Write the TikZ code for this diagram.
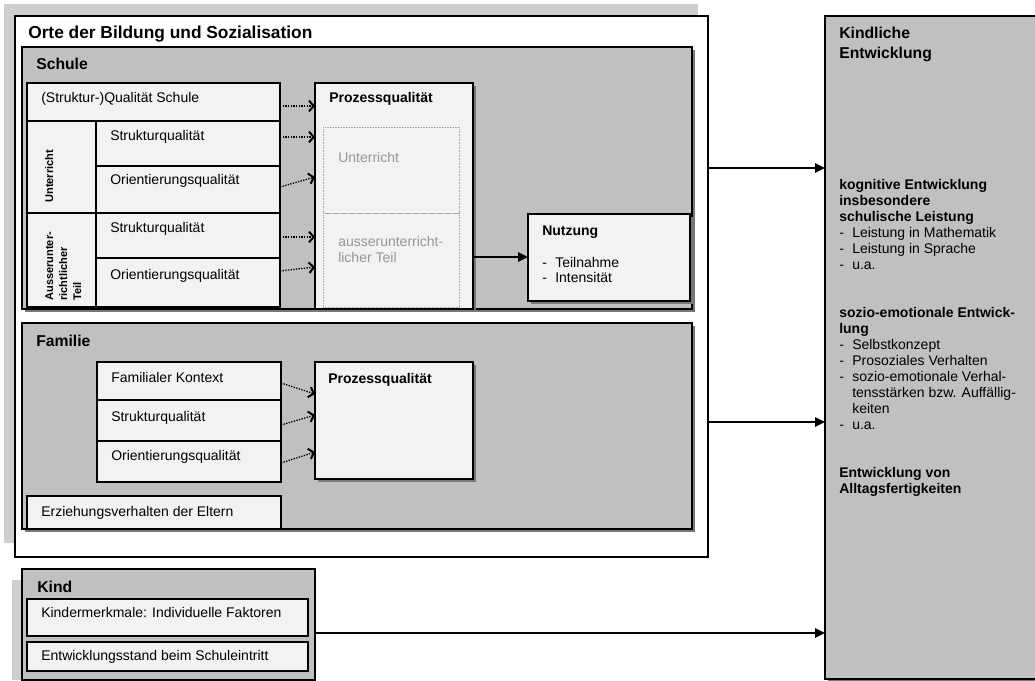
\documentclass[tikz,border=0pt]{standalone}
\usepackage{fontspec}
\setmainfont{Liberation Sans}
\usetikzlibrary{fit,shadows,arrows.meta}
\definecolor{secgray}{RGB}{192,192,192}
\definecolor{boxfill}{RGB}{242,242,242}
\definecolor{shadowc}{RGB}{120,120,120}
\definecolor{backc}{RGB}{206,206,206}
\definecolor{txtgray}{RGB}{150,150,150}
\definecolor{dotc}{RGB}{165,165,165}
\newcommand\fbody{\fontsize{10.5}{12}\selectfont}
\newcommand\fhead{\fontsize{11.8}{15}\selectfont\bfseries}
\newcommand\ftitle{\fontsize{13}{15.6}\selectfont\bfseries}
\newcommand\frot{\fontsize{8.3}{10.5}\selectfont\bfseries}
\newcommand\lidash{\makebox[9.75pt][l]{-}}
\begin{document}
\begin{tikzpicture}[x=0.75pt,y=-0.75pt,
  area/.style={inner sep=0pt,outer sep=0pt},
  sec/.style={area,draw=black,line width=0.9pt,fill=secgray},
  cell/.style={area,draw=black,line width=0.8pt,fill=boxfill},
  dbox/.style={area,draw=dotc,line width=0.5pt,dash pattern=on 0.6pt off 0.6pt},
  shad/.style={drop shadow={shadow xshift=2.4pt,shadow yshift=-2.4pt,fill=shadowc,opacity=1}},
  txt/.style={anchor=base west,inner sep=0pt,font=\fbody},
  dotarr/.style={line width=1pt,dash pattern=on 1pt off 1pt,-{Straight Barb[length=3.5pt,width=8pt,line width=1.5pt]}},
  arr/.style={line width=1.6pt,-{Triangle[length=7.5pt,width=7pt]}}]
\useasboundingbox (0,0) rectangle (1035,681);
% backdrops
\node[area,fill=backc,fit={(4,4) (698,543)}] (back) {};
\node[area,draw=black,line width=0.8pt,fill=white,fit={(15,16) (708,557)}] (orte) {};
\node[txt,font=\ftitle] (torte) at (28,39) {Orte der Bildung und Sozialisation};
% Schule
\node[sec,shad,fit={(22,47) (692,309)}] (schule) {};
\node[txt,font=\fhead] (tschule) at (36,70) {Schule};
\node[cell,fit={(27,83) (280,121)}] (qs) {};
\node[cell,fit={(27,121) (96,213)}] (unt) {};
\node[cell,fit={(96,121) (280,166)}] (sq1) {};
\node[cell,fit={(96,166) (280,213)}] (oq1) {};
\node[cell,fit={(27,213) (96,307)}] (aus) {};
\node[cell,fit={(96,213) (280,258)}] (sq2) {};
\node[cell,fit={(96,258) (280,307)}] (oq2) {};
\node[txt] (tqs) at (41,103) {(Struktur-)Qualität Schule};
\node[txt] (tsq1) at (110,141) {Strukturqualität};
\node[txt] (toq1) at (110,185) {Orientierungsqualität};
\node[txt] (tsq2) at (110,233) {Strukturqualität};
\node[txt] (toq2) at (110,279) {Orientierungsqualität};
\node[txt,font=\frot,rotate=90] (tunt) at (53,203) {Unterricht};
\node[txt,font=\frot,rotate=90] (taus) at (53,301) {\begin{tabular}[t]{@{}l@{}}Ausserunter-\\richtlicher\\Teil\end{tabular}};
\node[cell,shad,fit={(315,83) (473,309)}] (pq1) {};
\node[txt,font=\fbody\bfseries] (tpq1) at (329,103) {Prozessqualität};
\node[dbox,fit={(323,127) (459,213)}] (pu) {};
\node[dbox,fit={(323,213) (459,307)}] (pa) {};
\node[txt,text=txtgray] (tpu) at (338,163) {Unterricht};
\node[txt,text=txtgray] (tpa) at (338,246) {\begin{tabular}[t]{@{}l@{}}ausserunterricht-\\licher Teil\end{tabular}};
\node[cell,shad,fit={(528,214) (690,301)}] (nutz) {};
\node[txt,font=\fbody\bfseries] (tnutz) at (542,235) {Nutzung};
\node[txt] (tnutzl) at (542,267) {\begin{tabular}[t]{@{}l@{}}\lidash Teilnahme\\\lidash Intensität\end{tabular}};
% Familie
\node[sec,shad,fit={(22,323) (692,529)}] (fam) {};
\node[txt,font=\fhead] (tfam) at (36,346) {Familie};
\node[cell,fit={(97,362) (281,400)}] (fk) {};
\node[cell,fit={(97,400) (281,441)}] (fsq) {};
\node[cell,fit={(97,441) (281,482)}] (foq) {};
\node[txt] (tfk) at (111,382) {Familialer Kontext};
\node[txt] (tfsq) at (111,421) {Strukturqualität};
\node[txt] (tfoq) at (111,460) {Orientierungsqualität};
\node[cell,shad,fit={(315,362) (473,479)}] (pq2) {};
\node[txt,font=\fbody\bfseries] (tpq2) at (328,383) {Prozessqualität};
\node[cell,fit={(27,496) (281,529)}] (erz) {};
\node[txt] (terz) at (41,516) {Erziehungsverhalten der Eltern};
% Kind
\node[area,fill=backc,fit={(12,580) (22,680)}] (kindback) {};
\node[sec,fit={(22,569) (315,680)}] (kind) {};
\node[txt,font=\fhead] (tkind) at (37,592) {Kind};
\node[cell,fit={(27,599) (308,636)}] (km) {};
\node[cell,fit={(27,642) (308,671)}] (es) {};
\node[txt] (tkm) at (41,617) {Kindermerkmale: Individuelle Faktoren};
\node[txt] (tes) at (41,660) {Entwicklungsstand beim Schuleintritt};
% Kindliche Entwicklung
\node[sec,shad,fit={(825,16) (1045,679)}] (ke) {};
\node[txt,font=\fhead] (tke) at (839,39) {\begin{tabular}[t]{@{}l@{}}Kindliche\\Entwicklung\end{tabular}};
\node[txt] (tkog) at (839,190) {\begin{tabular}[t]{@{}l@{}}\bfseries kognitive Entwicklung\\\bfseries insbesondere\\\bfseries schulische Leistung\\\lidash Leistung in Mathematik\\\lidash Leistung in Sprache\\\lidash u.a.\end{tabular}};
\node[txt] (tsoz) at (839,317) {\begin{tabular}[t]{@{}l@{}}\bfseries sozio-emotionale Entwick-\\\bfseries lung\\\lidash Selbstkonzept\\\lidash Prosoziales Verhalten\\\lidash sozio-emotionale Verhal-\\\hspace*{9.75pt}tensstärken bzw. Auffällig-\\\hspace*{9.75pt}keiten\\\lidash u.a.\end{tabular}};
\node[txt] (talt) at (839,477) {\begin{tabular}[t]{@{}l@{}}\bfseries Entwicklung von\\\bfseries Alltagsfertigkeiten\end{tabular}};
% connectors
\draw[dotarr] (qs.east |- 0,106) -- (pq1.west |- 0,106);
\draw[dotarr] (sq1.east |- 0,137) -- (pq1.west |- 0,137);
\draw[dotarr] (oq1.east |- 0,187) -- (pq1.west |- 0,177);
\draw[dotarr] (sq2.east |- 0,237) -- (pq1.west |- 0,237);
\draw[dotarr] (oq2.east |- 0,271) -- (pq1.west |- 0,267);
\draw[dotarr] (fk.east |- 0,383) -- (pq2.west |- 0,394);
\draw[dotarr] (fsq.east |- 0,425) -- (pq2.west |- 0,415);
\draw[dotarr] (foq.east |- 0,463) -- (pq2.west |- 0,452);
\draw[arr] (pq1.east |- 0,257) -- (nutz.west |- 0,257);
\draw[arr] (orte.east |- 0,168) -- (ke.west |- 0,168);
\draw[arr] (orte.east |- 0,422) -- (ke.west |- 0,422);
\draw[arr] (kind.east |- 0,633) -- (ke.west |- 0,633);
\end{tikzpicture}
\end{document}
